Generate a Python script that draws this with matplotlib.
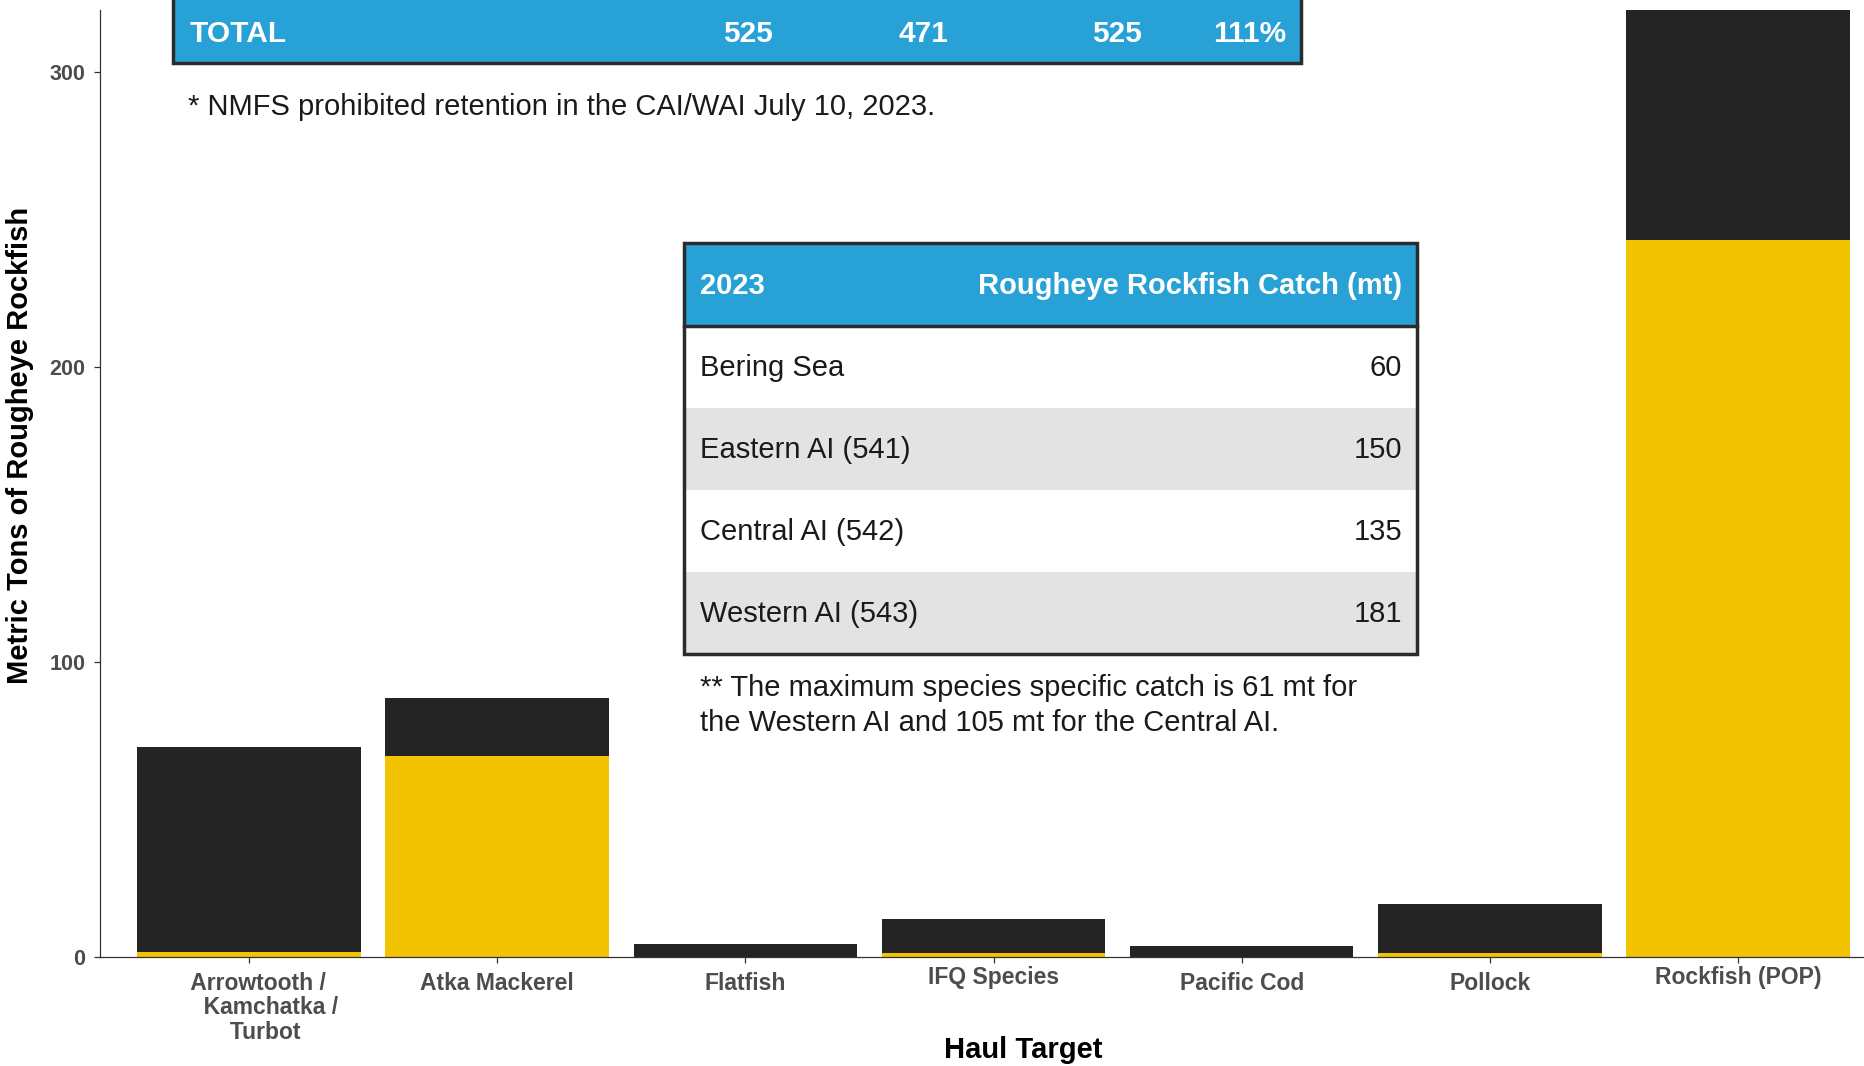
import matplotlib.pyplot as plt
from matplotlib.patches import Rectangle
from matplotlib.transforms import ScaledTranslation

# haul targets and rougheye catch (mt)
categories = ["   Arrowtooth /\n       Kamchatka /\n     Turbot", "Atka Mackerel",
              "Flatfish", "IFQ Species", "Pacific Cod", "Pollock", "Rockfish (POP)"]
retained = [1.7, 68.0, 0.0, 1.2, 0.0, 1.5, 243.1]
total = [71.2, 87.8, 4.4, 12.9, 3.6, 18.1, 321.0]
discarded = [t - r for t, r in zip(total, retained)]

yticks = [0, 100, 200, 300]

# inset tables
total_row = ["TOTAL", "525", "471", "525", "111%"]
areas = ["Bering Sea", "Eastern AI (541)", "Central AI (542)", "Western AI (543)"]
area_catch = [60, 150, 135, 181]

note1 = "* NMFS prohibited retention in the CAI/WAI July 10, 2023."
note2 = ("** The maximum species specific catch is 61 mt for\n"
         "the Western AI and 105 mt for the Central AI.")

DARK = "#242424"
YELLOW = "#F2C300"
BLUE = "#28A1D7"
GRAY_ROW = "#E3E3E3"
BORDER = "#2B2B2B"
TICK_GRAY = "#4D4D4D"
TEXT = "#1A1A1A"

plt.rcParams["font.family"] = ["Liberation Sans", "DejaVu Sans"]

W, H = 1864, 1066
fig = plt.figure(figsize=(W / 100, H / 100), dpi=100, facecolor="white")

ax = fig.add_axes([100 / W, 1 - 957 / H, (1887 - 100) / W, (957 - 10) / H])
x = list(range(len(categories)))
ax.bar(x, retained, width=0.9, color=YELLOW)
ax.bar(x, discarded, bottom=retained, width=0.9, color=DARK)
ax.set_xlim(-0.6, len(categories) - 0.4)
ax.set_ylim(0, max(total))
ax.set_xticks(x, categories, linespacing=1.1, fontweight="bold")
ax.set_yticks(yticks, [str(v) for v in yticks], fontweight="bold")
for s in ["top", "right"]:
    ax.spines[s].set_visible(False)
for s in ["left", "bottom"]:
    ax.spines[s].set_color("#333333")
    ax.spines[s].set_linewidth(0.9)
ax.tick_params(length=4.5, width=0.9, color="#333333", labelcolor=TICK_GRAY)
ax.tick_params(axis="y", pad=6, labelsize=15.5)
ax.tick_params(axis="x", pad=6, labelsize=16.5)

# labels with descenders sit a little higher in the original
for lbl in ax.get_xticklabels():
    if lbl.get_text() in ("IFQ Species", "Rockfish (POP)"):
        lbl.set_transform(lbl.get_transform() +
                          ScaledTranslation(0, 0.06, fig.dpi_scale_trans))

# overlay in pixel coordinates for the tables and notes
ov = fig.add_axes([0, 0, 1, 1], zorder=5)
ov.set_xlim(0, W)
ov.set_ylim(H, 0)
ov.axis("off")

# top TOTAL strip (cropped at the top)
ov.add_patch(Rectangle((173, -10), 1301 - 173, 73, fc=BLUE, ec=BORDER, lw=2.5))
ov.text(190, 34, total_row[0], color="white", fontsize=21.5, fontweight="bold",
        ha="left", va="center")
for xc, val in zip([748, 923, 1117, 1250], total_row[1:]):
    ov.text(xc, 34, val, color="white", fontsize=21.5, fontweight="bold",
            ha="center", va="center")

ov.text(188, 107, note1, fontsize=21, color=TEXT, ha="left", va="center")

# area catch table
tx0, tx1, ty0, hh, rh = 684, 1417, 243, 83, 82
ov.add_patch(Rectangle((tx0, ty0), tx1 - tx0, hh, fc=BLUE, ec="none"))
ov.text(700, ty0 + hh / 2 + 2, "2023", color="white", fontsize=21,
        fontweight="bold", ha="left", va="center")
ov.text(1402, ty0 + hh / 2 + 2, "Rougheye Rockfish Catch (mt)", color="white",
        fontsize=21, fontweight="bold", ha="right", va="center")
for i, (name, val) in enumerate(zip(areas, area_catch)):
    y0 = ty0 + hh + i * rh
    ov.add_patch(Rectangle((tx0, y0), tx1 - tx0, rh,
                           fc="white" if i % 2 == 0 else GRAY_ROW, ec="none"))
    ov.text(700, y0 + rh / 2 + 1, name, fontsize=21, color=TEXT,
            ha="left", va="center")
    ov.text(1402, y0 + rh / 2 + 1, str(val), fontsize=21, color=TEXT,
            ha="right", va="center")
ty1 = ty0 + hh + len(areas) * rh
ov.plot([tx0, tx1], [ty0 + hh, ty0 + hh], color=BORDER, lw=2.5)
ov.add_patch(Rectangle((tx0, ty0), tx1 - tx0, ty1 - ty0, fc="none", ec=BORDER,
                       lw=2.5))

ov.text(700, 674, note2, fontsize=21, color=TEXT, ha="left", va="top",
        linespacing=1.34)

# axis titles
ov.text(20, 445, "Metric Tons of Rougheye Rockfish", rotation=90, fontsize=21,
        fontweight="bold", color="black", ha="center", va="center")
ov.text(1023, 1050, "Haul Target", fontsize=21, fontweight="bold",
        color="black", ha="center", va="center")

fig.savefig("out.png", dpi=100, facecolor="white")
